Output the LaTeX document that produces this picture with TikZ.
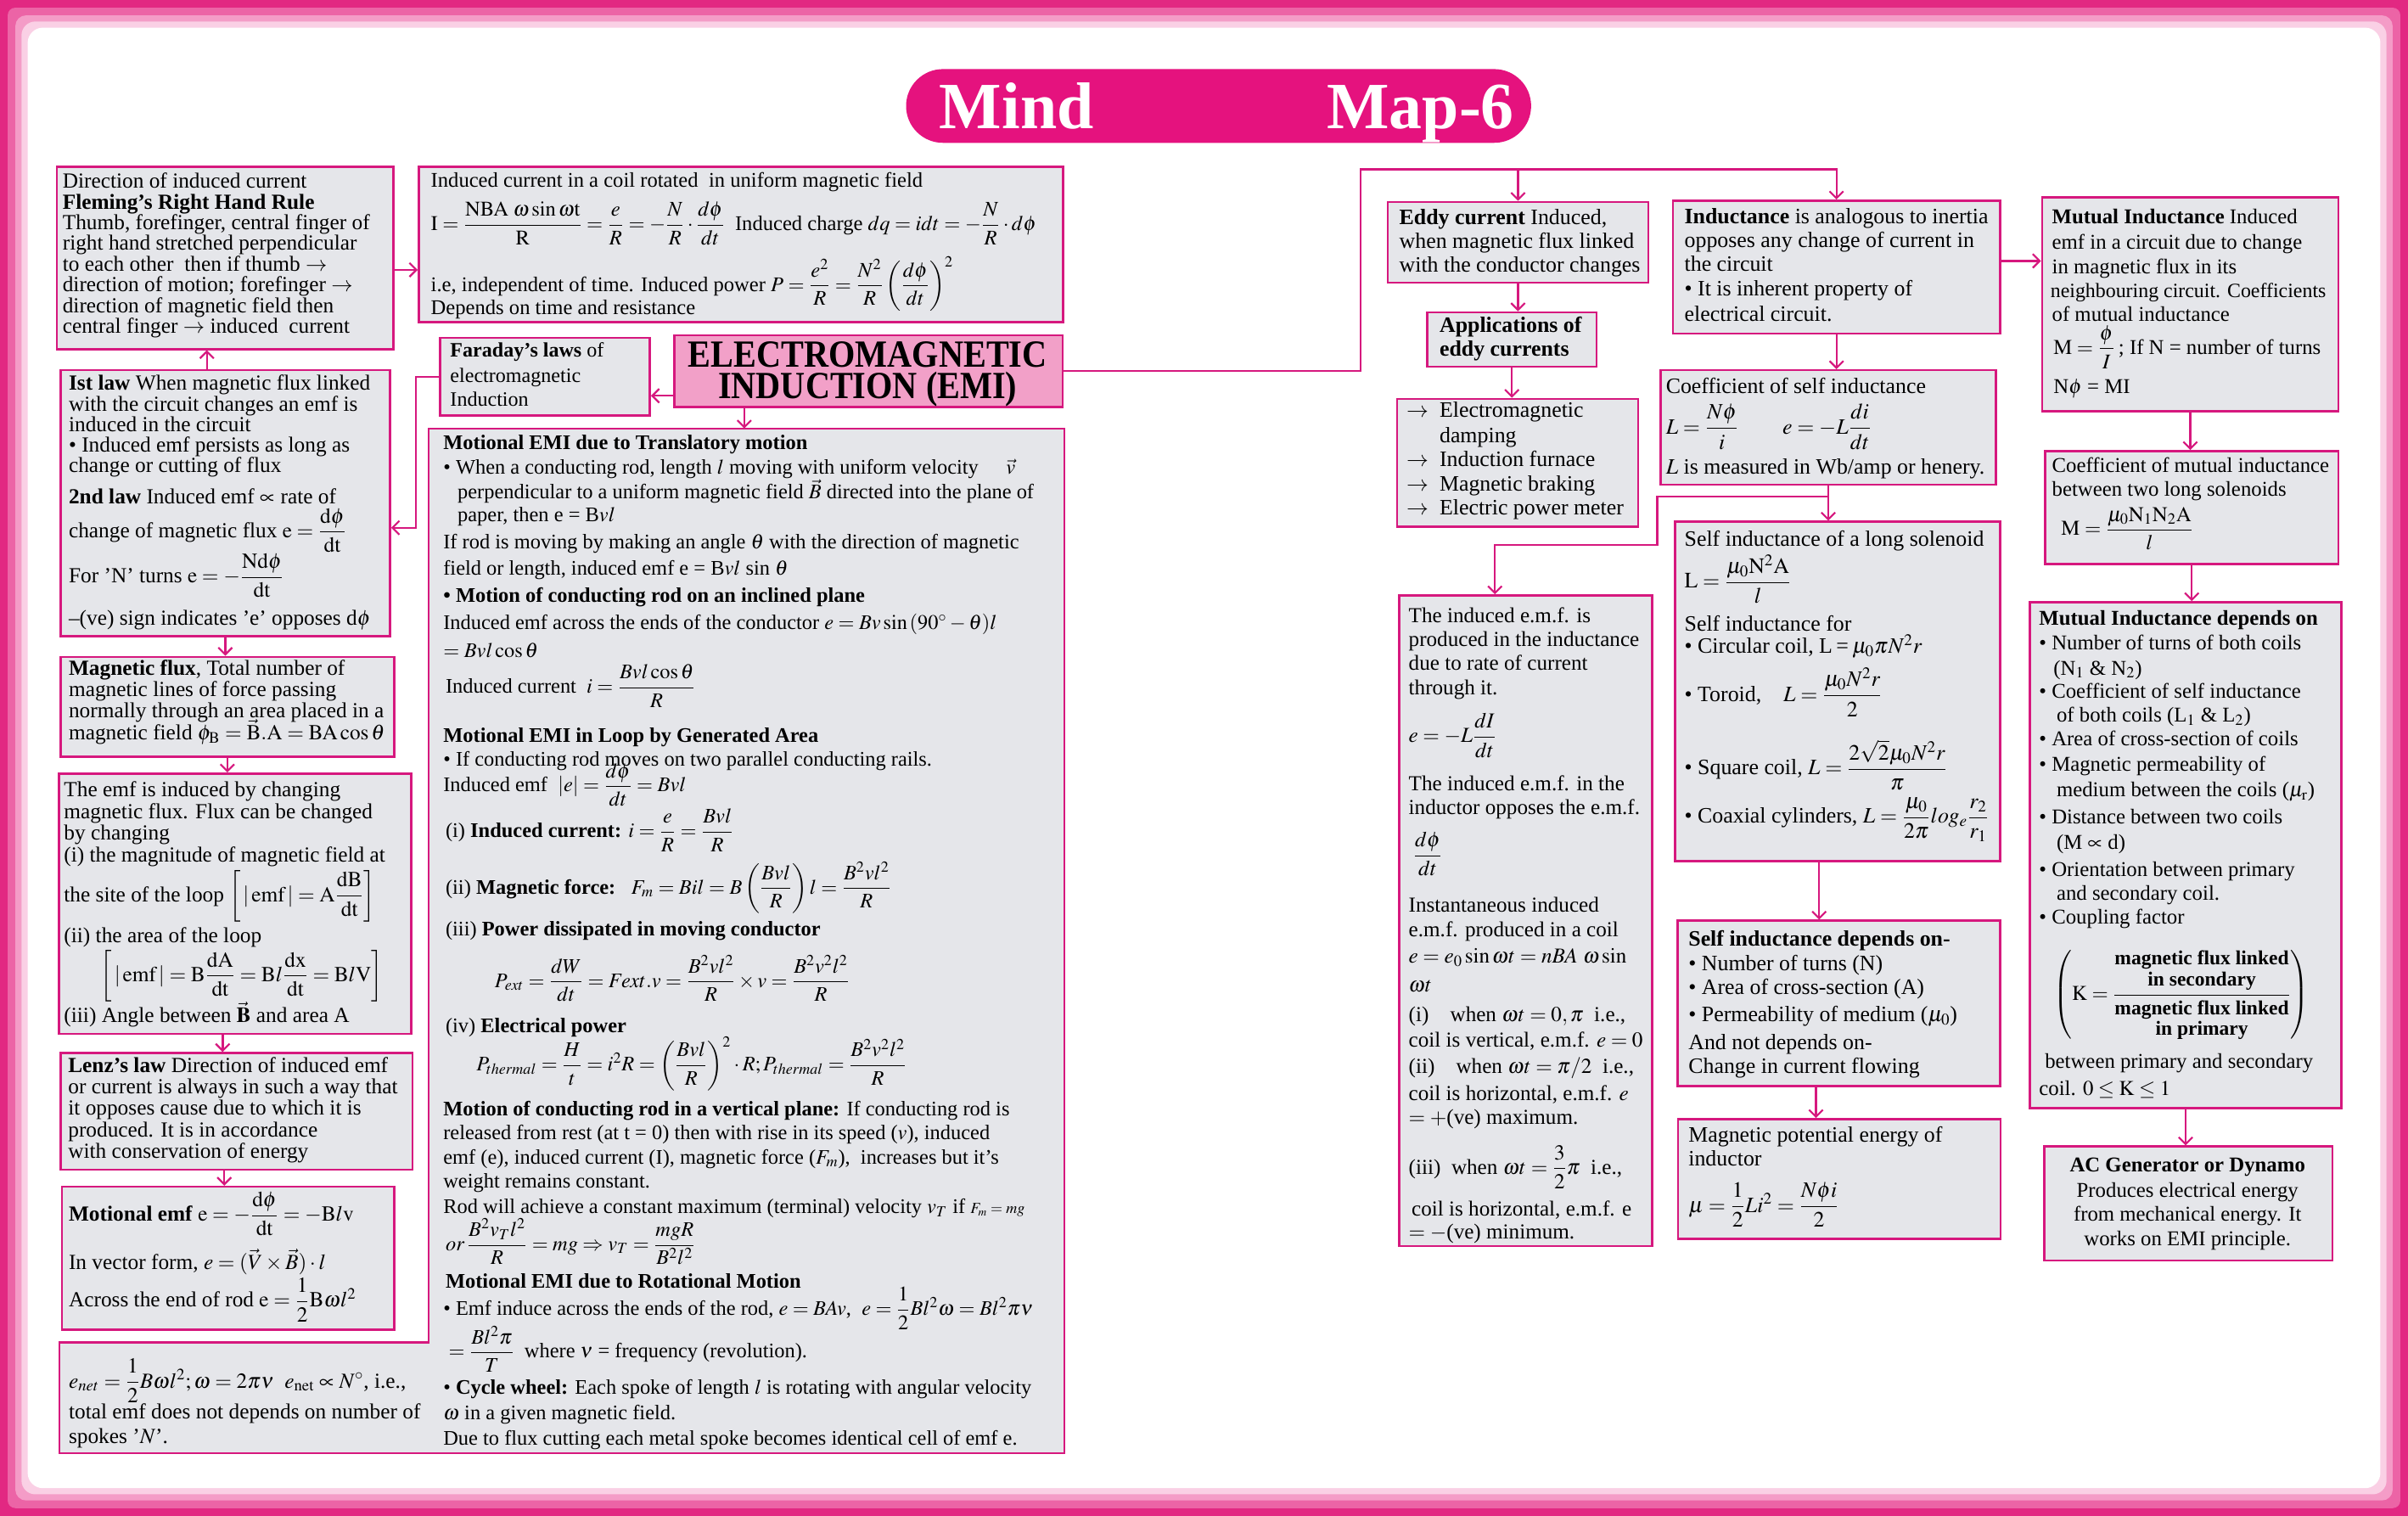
\documentclass[tikz,border=0pt]{standalone}
\usepackage{amsmath}
\usepackage{mathptmx}
\usepackage{graphicx}
\usepackage{fontspec}
\setmainfont{Liberation Serif}
\usetikzlibrary{arrows.meta}
\definecolor{mag}{RGB}{214,24,126}
\definecolor{boxf}{RGB}{229,230,234}
\definecolor{emif}{RGB}{242,160,200}
\definecolor{ttlc}{RGB}{229,18,126}
\definecolor{frA}{RGB}{226,40,130}
\definecolor{frB}{RGB}{236,100,166}
\definecolor{frC}{RGB}{244,156,199}
\definecolor{frD}{RGB}{250,208,229}
\newcounter{tlc}
\newcommand\TL[4][]{\stepcounter{tlc}\node[txt,#1] (t\arabic{tlc}) at (#2,#3) {#4};}
\newcommand\BX[6][]{\pgfmathsetmacro\bw{#5-#3}\pgfmathsetmacro\bh{#6-#4}\node[box,#1,minimum width=\bw pt,minimum height=\bh pt] (#2) at (#3,#4) {};}
\begin{document}
\begin{tikzpicture}[x=1pt,y=-1pt,
  box/.style={draw=mag,fill=boxf,line width=1.4pt,inner sep=0pt,anchor=north west},
  txt/.style={anchor=base west,inner sep=0pt,font=\fontsize{14}{16}\selectfont},
  arr/.style={draw=mag,line width=1.3pt,-{Straight Barb[length=4.5pt,width=9pt,line width=1.2pt]}},
  lnk/.style={draw=mag,line width=1.3pt}]
\useasboundingbox (0,0) rectangle (1568,987);
% frame
\fill[frA] (0,0) rectangle (1568,987);
\fill[frB,rounded corners=5pt] (5,5) rectangle (1563,982);
\fill[frC,rounded corners=7pt] (10,10) rectangle (1558,977);
\fill[frD,rounded corners=9pt] (14,14) rectangle (1554,973);
\fill[white,rounded corners=10pt] (18,18) rectangle (1550,969);
% title
\node[fill=ttlc,rounded corners=24pt,minimum width=407pt,minimum height=48pt,inner sep=0pt] (ttl) at (793.5,69) {};
\node[anchor=base,inner sep=0pt,text=white,font=\fontsize{43}{43}\selectfont\bfseries] (mind) at (662,84) {Mind};
\node[anchor=base,inner sep=0pt,text=white,font=\fontsize{43}{43}\selectfont\bfseries] (map) at (925,84) {Map-6};
% boxes
\BX{fl}{36.3}{107.8}{255.5}{226.6}
\BX{ic}{272}{107.8}{691.5}{209.1}
\BX{far}{285.8}{219.2}{422.5}{269.9}
\BX[fill=emif]{emi}{438.5}{217.7}{691.3}{264.3}
\BX{ist}{38.7}{240.4}{253.3}{413.6}
\BX{mf}{38.7}{427}{256}{492}
\BX{emf}{37.6}{503}{267}{672.6}
\BX{lenz}{38.7}{685}{268}{761}
\BX{mot}{39.6}{772}{256}{865}
\filldraw[draw=mag,fill=boxf,line width=1.4pt] (279,279) -- (693.2,279) -- (693.2,946.1) -- (38.7,946.1) -- (38.7,874) -- (279,874) -- cycle;
\BX[draw=none,fill=none]{cen}{279}{279}{693.2}{946.1}
\BX{eddy}{903}{130.8}{1072.5}{183.3}
\BX{app}{928.6}{202.7}{1039}{238}
\BX{lst}{909}{259}{1066}{342.3}
\BX{ind}{1088.6}{129.9}{1301.7}{216.5}
\BX{cs}{1080.6}{240.4}{1299}{315}
\BX{sol}{1090}{339}{1301.7}{560.1}
\BX{iem}{910.4}{387}{1075}{810.7}
\BX{sd}{1091.8}{598.8}{1301.7}{706.6}
\BX{mpe}{1092}{728}{1302}{806}
\BX{mut}{1329}{127.7}{1522}{267}
\BX{cm}{1331}{293}{1522}{366.5}
\BX{md}{1321}{391.4}{1524}{720.8}
\BX{ac}{1330.5}{745.8}{1518}{820}
% connectors
\coordinate (k1) at (270.8,343.6);
\coordinate (jn) at (886,110.2);
\coordinate (k2) at (1079.2,323.3);
\coordinate (k3) at (973.4,354.7);
\draw[arr] ([xshift=-12pt]ist.north) -- ([xshift=-12pt]ist.north |- fl.south);
\draw[arr] ([yshift=-7.8pt]fl.east) -- ([yshift=-7.8pt]fl.east -| ic.west);
\draw[arr] (far.west) -| (k1) -- (k1 -| ist.east);
\draw[arr] ([yshift=-16pt]emi.west) -- ([yshift=-16pt]emi.west -| far.east);
\draw[arr] ([xshift=-81pt]emi.south) -- ([xshift=-81pt]emi.south |- cen.north);
\draw[arr] (emi.east) -| (jn) -| (ind.north);
\draw[arr] (jn -| eddy.north) -- (eddy.north);
\draw[arr] (eddy.south) -- (eddy.south |- app.north);
\draw[arr] (app.south) -- (app.south |- lst.north);
\draw[arr] (ind.south) -- (ind.south |- cs.north);
\draw[arr] (cs.south) -- (cs.south |- sol.north);
\draw[arr] (cs.south |- k2) -- (k2) |- (k3) -- (k3 |- iem.north);
\draw[arr] ([xshift=-12pt]sol.south) -- ([xshift=-12pt]sol.south |- sd.north);
\draw[arr] ([xshift=-15pt]sd.south) -- ([xshift=-15pt]sd.south |- mpe.north);
\draw[arr] ([yshift=4pt]ind.east) -- ([yshift=4pt]ind.east -| mut.west);
\draw[arr] (mut.south) -- (mut.south |- cm.north);
\draw[arr] (cm.south) -- (cm.south |- md.north);
\draw[arr] (md.south) -- (md.south |- ac.north);
\draw[arr] (ist.south) -- (ist.south |- mf.north);
\draw[arr] (mf.south) -- (mf.south |- emf.north);
\draw[arr] ([xshift=-8pt]emf.south) -- ([xshift=-8pt]emf.south |- lenz.north);
\draw[arr] ([xshift=-8pt]lenz.south) -- ([xshift=-8pt]lenz.south |- mot.north);
% EMI title
\node[anchor=base,inner sep=0pt,font=\fontsize{25}{25}\selectfont\bfseries] (emi1) at (565,239) {\scalebox{0.89}[1]{ELECTROMAGNETIC}};
\node[anchor=base,inner sep=0pt,font=\fontsize{25}{25}\selectfont\bfseries] (emi2) at (565,259.5) {\scalebox{0.89}[1]{INDUCTION (EMI)}};
% Fleming
\TL{40.6}{122.5}{Direction of induced current}
\TL{40.6}{136}{\textbf{Fleming’s Right Hand Rule}}
\TL{40.6}{149.5}{Thumb, forefinger, central finger of}
\TL{40.6}{163}{right hand stretched perpendicular}
\TL{40.6}{176.5}{to each other\ \ then if thumb\ $\rightarrow$}
\TL{40.6}{190}{direction of motion; forefinger $\rightarrow$}
\TL{40.6}{203.5}{direction of magnetic field then}
\TL{40.6}{217}{central finger $\rightarrow$ induced\ \ current}
% induced current
\begin{scope}[txt/.append style={font=\fontsize{13.6}{15}\selectfont}]
\TL{280.4}{122}{Induced current in a coil rotated\ \ in uniform magnetic field}
\TL{280.4}{150}{$\mathrm{I}=\dfrac{\mathrm{NBA}\;\omega\sin\omega\mathrm{t}}{\mathrm{R}}=\dfrac{e}{R}=-\dfrac{N}{R}\cdot\dfrac{d\phi}{dt}$\ \ Induced charge $dq=idt=-\dfrac{N}{R}\cdot d\phi$}
\TL{280.4}{189.6}{i.e, independent of time. Induced power\ $P=\dfrac{e^2}{R}=\dfrac{N^2}{R}\left(\dfrac{d\phi}{dt}\right)^{2}$}
\TL{280.4}{205}{Depends on time and resistance}
\end{scope}
\begin{scope}[txt/.append style={font=\fontsize{13.3}{15}\selectfont}]
\TL{293}{232.5}{\textbf{Faraday's laws} of}
\TL{293}{249}{electromagnetic}
\TL{293}{264.5}{Induction}
\end{scope}
% Ist law
\TL{44.6}{254.2}{\textbf{Ist law} When magnetic flux linked}
\TL{44.6}{267.6}{with the circuit changes an emf is}
\TL{44.6}{281}{induced in the circuit}
\TL{44.6}{294.4}{• Induced emf persists as long as}
\TL{44.6}{307.8}{change or cutting of flux}
\TL{44.6}{327.9}{\textbf{2nd law} Induced emf $\propto$ rate of}
\TL{44.6}{350}{change of magnetic flux $\mathrm{e}=\dfrac{\mathrm{d}\phi}{\mathrm{dt}}$}
\TL{44.6}{379.4}{For 'N' turns $\mathrm{e}=-\dfrac{\mathrm{Nd}\phi}{\mathrm{dt}}$}
\TL{44.6}{407}{--(ve) sign indicates 'e' opposes d$\phi$}
% magnetic flux
\TL{44.6}{439.5}{\textbf{Magnetic flux}, Total number of}
\TL{44.6}{453.5}{magnetic lines of force passing}
\TL{44.6}{467.5}{normally through an area placed in a}
\TL{44.6}{481.5}{magnetic field $\phi_{\mathrm{B}}=\vec{\mathrm{B}}.\mathrm{A}=\mathrm{BA}\cos\theta$}
% emf
\TL{41.5}{518.5}{The emf is induced by changing}
\TL{41.5}{533}{magnetic flux. Flux can be changed}
\TL{41.5}{547}{by changing}
\TL{41.5}{561.5}{(i) the magnitude of magnetic field at}
\TL{41.5}{587}{the site of the loop $\bigg[\,|\,\mathrm{emf}\,|=\mathrm{A}\dfrac{\mathrm{dB}}{\mathrm{dt}}\bigg]$}
\TL{41.5}{613.5}{(ii) the area of the loop}
\TL{65.4}{639}{$\bigg[\,|\,\mathrm{emf}\,|=\mathrm{B}\dfrac{\mathrm{dA}}{\mathrm{dt}}=\mathrm{B}l\dfrac{\mathrm{dx}}{\mathrm{dt}}=\mathrm{B}l\mathrm{V}\bigg]$}
\TL{41.5}{665.5}{(iii) Angle between $\vec{\mathbf{B}}$ and area A}
% Lenz
\TL{44.2}{698.2}{\textbf{Lenz's law} Direction of induced emf}
\TL{44.2}{712.2}{or current is always in such a way that}
\TL{44.2}{726.2}{it opposes cause due to which it is}
\TL{44.2}{740.2}{produced. It is in accordance}
\TL{44.2}{754.2}{with conservation of energy}
% motional emf
\TL{44.6}{795}{\textbf{Motional emf} $\mathrm{e}=-\dfrac{\mathrm{d}\phi}{\mathrm{dt}}=-\mathrm{B}l\mathrm{v}$}
\TL{44.6}{826.3}{In vector form, {\boldmath$e=(\vec{V}\times\vec{B})\cdot l$}}
\TL{44.6}{851}{Across the end of rod $\mathrm{e}=\dfrac{1}{2}\mathrm{B}\omega l^{2}$}
% e_net
\TL{44.6}{903.7}{$e_{net}=\dfrac{1}{2}B\omega l^{2};\omega=2\pi\nu$\ \ $e_{\mathrm{net}}\propto N^{\circ}$, i.e.,}
\TL{44.6}{924}{total emf does not depends on number of}
\TL{44.6}{939.7}{spokes '$N$'.}
% center
\begin{scope}[txt/.append style={font=\fontsize{13.5}{15}\selectfont}]
\TL{288.5}{292.6}{\textbf{Motional EMI due to Translatory motion}}
\TL{288.5}{308.6}{• When a conducting rod, length $l$ moving with uniform velocity}
\TL{655}{308.6}{$\vec{v}$}
\TL{297.8}{324.5}{perpendicular to a uniform magnetic field $\vec{B}$ directed into the plane of}
\TL{297.8}{339.6}{paper, then e = B$vl$}
\TL{288.5}{357.1}{If rod is moving by making an angle $\theta$ with the direction of magnetic}
\TL{288.5}{374.6}{field or length, induced emf e = B$vl$ sin $\theta$}
\TL{288.5}{392.1}{\textbf{• Motion of conducting rod on an inclined plane}}
\TL{288.5}{409.6}{Induced emf across the ends of the conductor $e=Bv\sin{(90^{\circ}-\theta)}l$}
\TL{288.5}{428}{$=Bvl\cos\theta$}
\TL{290}{451.2}{Induced current\ \ $i=\dfrac{Bvl\cos\theta}{R}$}
\TL{288.5}{483.3}{\textbf{Motional EMI in Loop by Generated Area}}
\TL{288.5}{499}{• If conducting rod moves on two parallel conducting rails.}
\TL{288.5}{515.5}{Induced emf\ \ $|e|=\dfrac{d\phi}{dt}=Bvl$}
\TL{290}{545.2}{(i) \textbf{Induced current:} $i=\dfrac{e}{R}=\dfrac{Bvl}{R}$}
\TL{290}{582}{(ii) \textbf{Magnetic force:}\ \ \ $F_m=Bil=B\left(\dfrac{Bvl}{R}\right)l=\dfrac{B^2vl^2}{R}$}
\TL{290}{609.5}{(iii) \textbf{Power dissipated in moving conductor}}
\TL{322}{642.8}{$P_{ext}=\dfrac{dW}{dt}=Fext.v=\dfrac{B^2vl^2}{R}\times v=\dfrac{B^2v^2l^2}{R}$}
\TL{290}{672.2}{(iv) \textbf{Electrical power}}
\TL{310}{697.2}{$P_{thermal}=\dfrac{H}{t}=i^2R=\left(\dfrac{Bvl}{R}\right)^{2}\cdot R;P_{thermal}=\dfrac{B^2v^2l^2}{R}$}
\TL{288.5}{726.5}{\textbf{Motion of conducting rod in a vertical plane:} If conducting rod is}
\TL{288.5}{742.2}{released from rest (at t = 0) then with rise in its speed ($v$), induced}
\TL{288.5}{757.9}{emf (e), induced current (I), magnetic force ($F_{m}$),\ \ increases but it's}
\TL{288.5}{773.5}{weight remains constant.}
\TL{288.5}{790.1}{Rod will achieve a constant maximum (terminal) velocity $v_{T}$ if {\fontsize{10}{10}\selectfont$F_m=mg$}}
\TL{290}{814.2}{$or\,\dfrac{B^2v_Tl^2}{R}=mg\Rightarrow v_T=\dfrac{mgR}{B^2l^2}$}
\TL{290}{838.9}{\textbf{Motional EMI due to Rotational Motion}}
\TL{288.5}{856.4}{• Emf induce across the ends of the rod, $e=BAv$,\ \ $e=\dfrac{1}{2}Bl^2\omega=Bl^2\pi\nu$}
\TL{292}{884.2}{$=\dfrac{Bl^2\pi}{T}$\ \ where $\nu$ = frequency (revolution).}
\TL{288.5}{908}{• \textbf{Cycle wheel:} Each spoke of length $l$ is rotating with angular velocity}
\TL{288.5}{924.6}{$\omega$ in a given magnetic field.}
\TL{288.5}{941}{Due to flux cutting each metal spoke becomes identical cell of emf e.}
\end{scope}
% right column
\begin{scope}[txt/.append style={font=\fontsize{14.3}{16}\selectfont}]
\TL{911}{146}{\textbf{Eddy current} Induced,}
\TL{911}{161.5}{when magnetic flux linked}
\TL{911}{177.3}{with the conductor changes}
\TL{937.2}{216.4}{\textbf{Applications of}}
\TL{937.2}{232}{\textbf{eddy currents}}
\TL{915.7}{271.6}{\makebox[21.5pt][l]{$\rightarrow$}Electromagnetic}
\TL{937.2}{288.2}{damping}
\TL{915.7}{303.9}{\makebox[21.5pt][l]{$\rightarrow$}Induction furnace}
\TL{915.7}{319.5}{\makebox[21.5pt][l]{$\rightarrow$}Magnetic braking}
\TL{915.7}{335.2}{\makebox[21.5pt][l]{$\rightarrow$}Electric power meter}
\TL{1096.7}{145.5}{\textbf{Inductance} is analogous to inertia}
\TL{1096.7}{161.1}{opposes any change of current in}
\TL{1096.7}{176.8}{the circuit}
\TL{1096.7}{192.8}{• It is inherent property of}
\TL{1096.7}{209}{electrical circuit.}
\TL{1084.6}{256}{Coefficient of self inductance}
\TL{1084.6}{282.6}{$L=\dfrac{N\phi}{i}\qquad e=-L\dfrac{di}{dt}$}
\TL{1084.6}{308.5}{$L$ is measured in Wb/amp or henery.}
\TL{1096.7}{355.5}{Self inductance of a long solenoid}
\TL{1096.7}{383}{$\mathrm{L}=\dfrac{\mu_0\mathrm{N}^2\mathrm{A}}{l}$}
\TL{1096.7}{410.8}{Self inductance for}
\TL{1096.7}{425.5}{• Circular coil, L\,=\,$\mu_0\pi N^2r$}
\TL{1096.7}{456.7}{• Toroid,\quad $L=\dfrac{\mu_0N^2r}{2}$}
\TL{1096.7}{504.6}{• Square coil, $L=\dfrac{2\sqrt{2}\mu_0N^2r}{\pi}$}
\TL{1096.7}{536}{• Coaxial cylinders, $L=\dfrac{\mu_0}{2\pi}log_e\dfrac{r_2}{r_1}$}
\TL{1099.3}{616.2}{\textbf{Self inductance depends on-}}
\TL{1099.3}{631.9}{• Number of turns (N)}
\TL{1099.3}{647.5}{• Area of cross-section (A)}
\TL{1099.3}{665.1}{• Permeability of medium ($\mu_0$)}
\TL{1099.3}{683.5}{And not depends on-}
\TL{1099.3}{699.1}{Change in current flowing}
\TL{1099.3}{743.4}{Magnetic potential energy of}
\TL{1099.3}{759}{inductor}
\TL{1099.3}{789.3}{$\mu=\dfrac{1}{2}Li^{2}=\dfrac{N\phi i}{2}$}
\end{scope}
\begin{scope}[txt/.append style={font=\fontsize{13.9}{16}\selectfont}]
\TL{917.1}{405.2}{The induced e.m.f. is}
\TL{917.1}{420.9}{produced in the inductance}
\TL{917.1}{436.5}{due to rate of current}
\TL{917.1}{452.2}{through it.}
\TL{917.1}{483.5}{$e=-L\dfrac{dI}{dt}$}
\TL{917.1}{514.8}{The induced e.m.f. in the}
\TL{917.1}{530.5}{inductor opposes the e.m.f.}
\TL{920}{560.8}{$\dfrac{d\phi}{dt}$}
\TL{917.1}{594.1}{Instantaneous induced}
\TL{917.1}{609.8}{e.m.f. produced in a coil}
\TL{917.1}{627.3}{$e=e_{0}\sin\omega t=nBA\ \omega\,\mathrm{sin}$}
\TL{917.1}{645.7}{$\omega t$}
\TL{917.1}{665.1}{(i)\quad when $\omega t=0,\pi$\ \ i.e.,}
\TL{917.1}{681.6}{coil is vertical, e.m.f. $e=0$}
\TL{917.1}{699.1}{(ii)\quad when $\omega t=\pi/2$\ \ i.e.,}
\TL{917.1}{716.6}{coil is horizontal, e.m.f. $e$}
\TL{917.1}{732.3}{$=+$(ve) maximum.}
\TL{917.1}{764.5}{(iii)\ \ when $\omega t=\dfrac{3}{2}\pi$\ \ i.e.,}
\TL{919}{791.5}{coil is horizontal, e.m.f. e}
\TL{917.1}{806.5}{$=-$(ve) minimum.}
\end{scope}
% far right
\begin{scope}[txt/.append style={font=\fontsize{13.7}{15}\selectfont}]
\TL{1336}{145.5}{\textbf{Mutual Inductance} Induced}
\TL{1336}{162}{emf in a circuit due to change}
\TL{1336}{178}{in magnetic flux in its}
\TL[font=\fontsize{13.2}{15}\selectfont]{1335}{193.6}{neighbouring circuit. Coefficients}
\TL{1336}{209.3}{of mutual inductance}
\TL{1337}{230.5}{$\mathrm{M}=\dfrac{\phi}{I}$\,; If N = number of turns}
\TL{1337}{256}{N$\phi$ = MI}
\TL{1336}{307.5}{Coefficient of mutual inductance}
\TL{1336}{323.3}{between two long solenoids}
\TL{1342}{348.7}{$\mathrm{M}=\dfrac{\mu_0\mathrm{N}_1\mathrm{N}_2\mathrm{A}}{l}$}
\TL{1327.6}{407.3}{\textbf{Mutual Inductance depends on}}
\TL{1327.6}{422.9}{• Number of turns of both coils}
\TL{1337}{439.5}{(N$_1$ \& N$_2$)}
\TL{1327.6}{454.6}{• Coefficient of self inductance}
\TL{1339}{470.2}{of both coils (L$_1$ \& L$_2$)}
\TL{1327.6}{485.8}{• Area of cross-section of coils}
\TL{1327.6}{501.9}{• Magnetic permeability of}
\TL{1339}{518.9}{medium between the coils ($\mu_{\mathrm r}$)}
\TL{1327.6}{536.4}{• Distance between two coils}
\TL{1339}{552.9}{(M $\propto$ d)}
\TL{1327.6}{570.8}{• Orientation between primary}
\TL{1339}{586}{and secondary coil.}
\TL{1327.6}{601.5}{• Coupling factor}
\TL[anchor=west]{1337}{648.5}{$\left(\mathrm{K}=\dfrac{\text{\fontsize{13}{13.5}\selectfont\bfseries\begin{tabular}[b]{@{}c@{}}magnetic flux linked\\in secondary\end{tabular}}}{\text{\fontsize{13}{13.5}\selectfont\bfseries\begin{tabular}[t]{@{}c@{}}magnetic flux linked\\in primary\end{tabular}}}\right)$}
\TL{1331.4}{695.6}{between primary and secondary}
\TL{1327.6}{713.5}{coil. $0\le\mathrm{K}\le1$}
\TL[anchor=base]{1424.4}{763}{\textbf{AC Generator or Dynamo}}
\TL[anchor=base]{1424.4}{779.6}{Produces electrical energy}
\TL[anchor=base]{1424.4}{795.2}{from mechanical energy. It}
\TL[anchor=base]{1424.4}{811.2}{works on EMI principle.}
\end{scope}
\end{tikzpicture}
\end{document}
